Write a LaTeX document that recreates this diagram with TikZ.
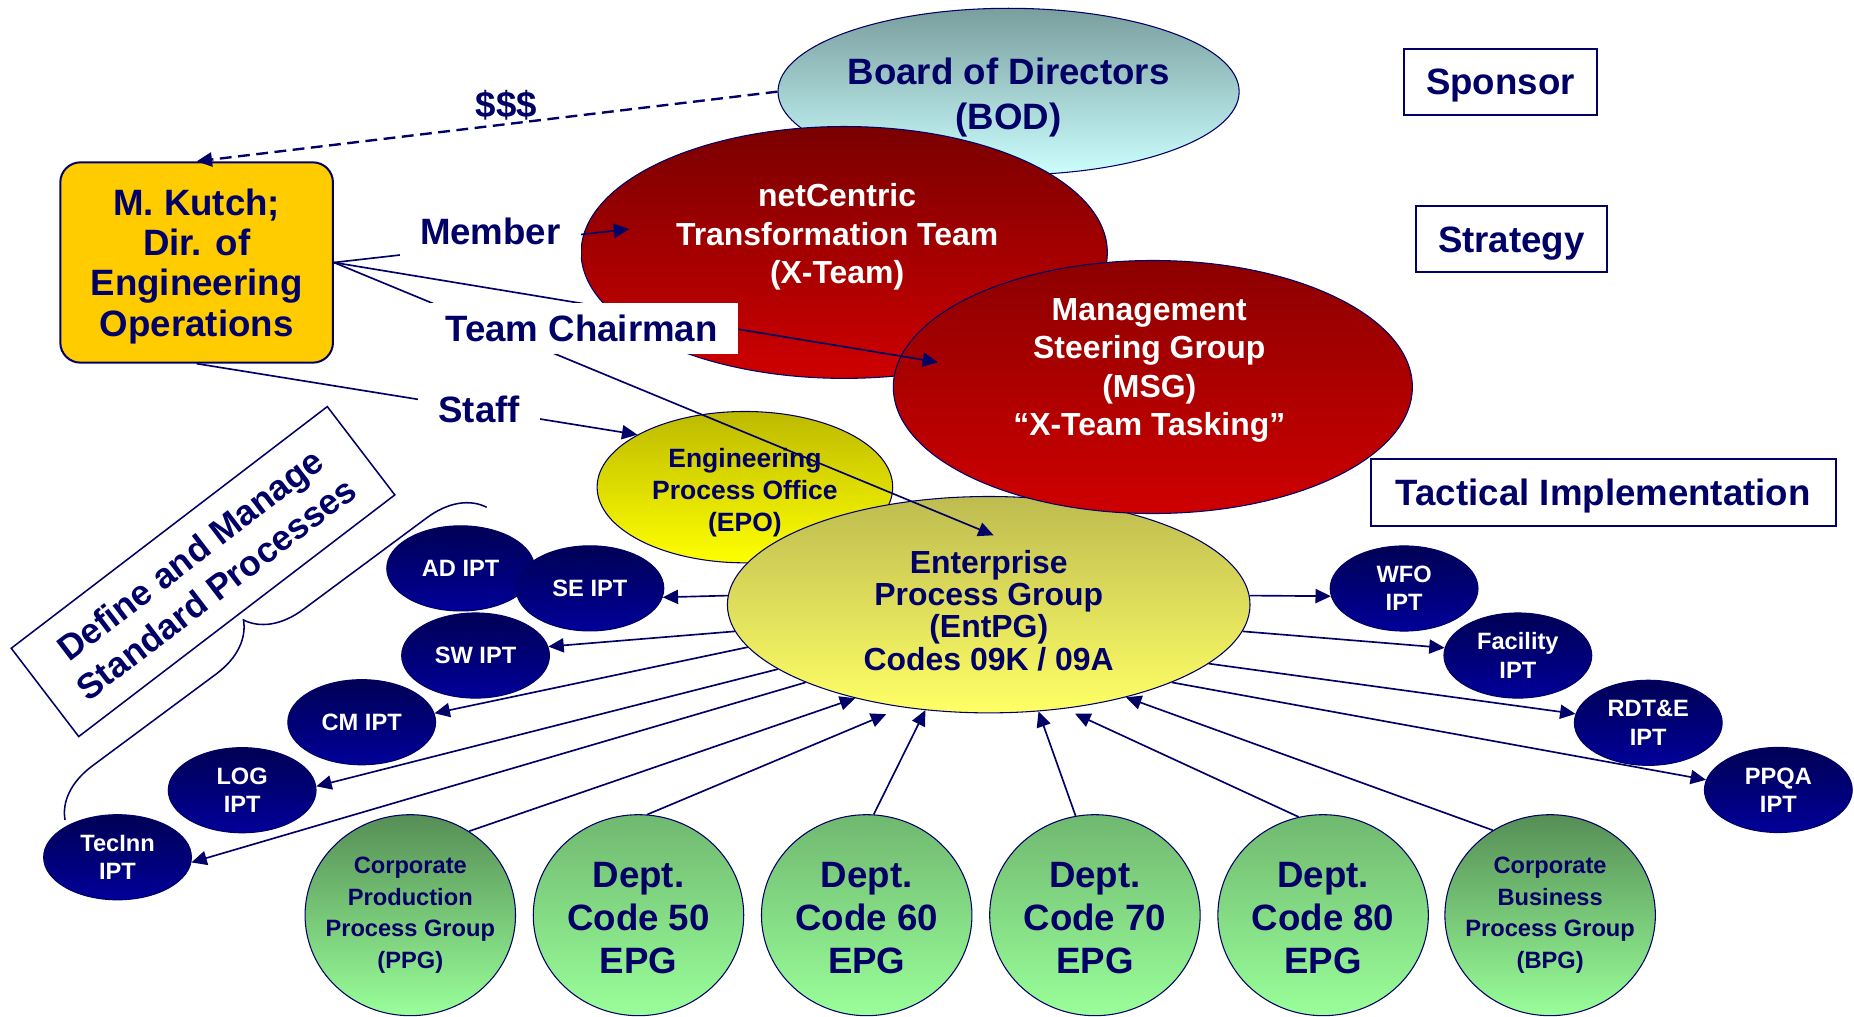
\documentclass[tikz,border=0pt]{standalone}
\usepackage{fontspec}
\setmainfont{Liberation Sans}
\usetikzlibrary{shapes.geometric, arrows.meta, decorations.pathreplacing}

\definecolor{navy}{RGB}{0, 0, 102}
\definecolor{gold}{RGB}{255, 204, 0}
\definecolor{bodtop}{RGB}{122, 158, 158}
\definecolor{bodbot}{RGB}{204, 255, 255}
\definecolor{redtop}{RGB}{122, 0, 0}
\definecolor{msgtop}{RGB}{140, 0, 0}
\definecolor{redbot}{RGB}{206, 0, 0}
\definecolor{epotop}{RGB}{189, 186, 0}
\definecolor{epobot}{RGB}{255, 255, 0}
\definecolor{enttop}{RGB}{190, 188, 80}
\definecolor{entbot}{RGB}{255, 255, 102}
\definecolor{ipttop}{RGB}{0, 0, 85}
\definecolor{iptbot}{RGB}{0, 0, 153}
\definecolor{depttop}{RGB}{112, 184, 112}
\definecolor{corptop}{RGB}{86, 142, 86}
\definecolor{greenbot}{RGB}{153, 255, 153}

\newcommand{\fBig}{\bfseries\fontsize{31}{34}\selectfont}
\newcommand{\fBod}{\bfseries\fontsize{31}{38}\selectfont}
\newcommand{\fRed}{\bfseries\fontsize{27}{32.5}\selectfont}
\newcommand{\fEnt}{\bfseries\fontsize{27}{27.4}\selectfont}
\newcommand{\fEpo}{\bfseries\fontsize{22.4}{26.8}\selectfont}
\newcommand{\fIpt}{\bfseries\fontsize{20}{24}\selectfont}
\newcommand{\fDept}{\bfseries\fontsize{31}{36.6}\selectfont}
\newcommand{\fCorp}{\bfseries\fontsize{20}{26.6}\selectfont}
\newcommand{\fDefine}{\bfseries\fontsize{30}{36}\selectfont}

\tikzset{
  ball/.style={ellipse, draw=navy, line width=0.9pt, inner sep=0pt, align=center},
  balltext/.style={text=navy, align=center, inner sep=0pt},
  bodball/.style={ball, top color=bodtop, bottom color=bodbot,
    minimum width=390pt, minimum height=141pt},
  redball/.style={ball, top color=redtop, bottom color=redbot},
  epoball/.style={ball, top color=epotop, bottom color=epobot,
    minimum width=250pt, minimum height=128pt},
  entball/.style={ball, top color=enttop, bottom color=entbot,
    minimum width=442pt, minimum height=183pt},
  iptball/.style={ball, top color=ipttop, bottom color=iptbot, text=white,
    font=\fIpt, minimum width=125pt, minimum height=72pt},
  greenball/.style={ball, bottom color=greenbot, text=navy,
    minimum width=178pt, minimum height=170pt},
  deptball/.style={greenball, top color=depttop},
  corpball/.style={greenball, top color=corptop, font=\fCorp, inner xsep=-10pt},
  redtext/.style={balltext, text=white, font=\fRed},
  tagbox/.style={draw=navy, line width=1.7pt, text=navy, font=\fBig,
    inner sep=0pt, minimum height=56pt, text height=22pt, text depth=0pt},
  tag/.style={fill=white, text=navy, font=\fBig, inner xsep=17pt, inner ysep=10pt},
  link/.style={draw=navy, line width=1.4pt, -{Triangle[length=13pt, width=12pt]}}
}

\begin{document}
\begin{tikzpicture}[x=1pt, y=-1pt]
  \fill[white] (0,0) rectangle (1568,860);
  \useasboundingbox (0,0) rectangle (1568,860);

  % ellipses, back to front
  \node[bodball] (bod) at (853,77.5) {};
  \node[balltext, font=\fBod] (bodtext) at ([yshift=-5.2pt]bod.center) {Board of Directors\\(BOD)};
  \node[redball, minimum width=445pt, minimum height=213pt] (xteam) at (714,213.5) {};
  \node[redtext] (xteamtext) at ([xshift=-6pt, yshift=13pt]xteam.center)
    {netCentric\\Transformation Team\\(X-Team)};
  \node[epoball] (epo) at (630,412) {};
  \node[balltext, font=\fEpo] (epotext) at ([yshift=-4.5pt]epo.center)
    {Engineering\\Process Office\\(EPO)};
  \node[entball] (entpg) at (836.2,511.4) {};
  \node[balltext, font=\fEnt] (entpgtext) at ([yshift=-4.9pt]entpg.center)
    {Enterprise\\Process Group\\(EntPG)\\Codes 09K / 09A};
  \node[redball, top color=msgtop, minimum width=439pt, minimum height=214pt] (msg) at (975,327.3) {};
  \node[redtext] (msgtext) at ([xshift=-3pt, yshift=14pt]msg.center)
    {Management\\Steering Group\\(MSG)\\``X-Team Tasking''};

  % boxes
  \node[draw=navy, line width=1.7pt, fill=gold, rounded corners=17pt, text=navy, font=\fBig,
    align=center, inner sep=0pt, minimum width=230.6pt, minimum height=169.4pt, text depth=-1.5pt]
    (kutch) at (166.3,222) {M. Kutch;\\Dir. of\\Engineering\\Operations};
  \node[tagbox, minimum width=163pt] (sponsor) at (1268.9,69.1) {Sponsor};
  \node[tagbox, minimum width=161pt] (strategy) at (1278.2,202.2) {Strategy};
  \node[tagbox, minimum width=393.6pt] (tactical) at (1356,416.5) {Tactical Implementation};
  \node[draw=navy, line width=1.3pt, rotate=37.4, text=navy, font=\fDefine, align=center,
    inner sep=0pt, minimum width=336.5pt, minimum height=94pt] (define) at (171.7,483.4)
    {Define and Manage\\Standard Processes};
  \draw[navy, line width=1.3pt, decorate, decoration={brace, amplitude=46pt}]
    (55,693.5) -- (411.6,429);

  % IPTs
  \foreach \nm/\px/\py/\txt in {ad/389.6/480.7/AD IPT, se/498.9/497.6/SE IPT,
      sw/402.2/554.4/SW IPT, cm/305.9/610.8/CM IPT, log/204.8/668.3/LOG\\IPT,
      tecinn/99.4/725/TecInn\\IPT, wfo/1187.5/497.7/WFO\\IPT,
      facility/1283.7/554.4/Facility\\IPT, rdte/1394/611.3/RDT\&E\\IPT,
      ppqa/1504/668.1/PPQA\\IPT}
    \node[iptball] (\nm) at (\px,\py) {\txt};

  % process groups
  \node[corpball] (ppg) at (347,774) {Corporate\\Production\\Process Group\\(PPG)};
  \foreach \c/\px in {50/540, 60/733, 70/926, 80/1119} {
    \node[deptball] (d\c) at (\px,774) {};
    \node[balltext, font=\fDept] (d\c text) at ([yshift=-2.3pt]d\c.center) {Dept.\\Code \c\\EPG};
  }
  \node[corpball] (bpg) at (1311,774) {Corporate\\Business\\Process Group\\(BPG)};

  % connectors
  \draw[link, line width=2pt, dash pattern=on 10pt off 5.5pt] (bod.west) --
    node[above, pos=0.467, inner sep=2pt, text=navy, font=\fBig] {\$\$\$} (kutch.north);
  \draw[link, shorten >=-76pt] (kutch.east) -- (entpg.127);
  \draw[link, shorten >=-32pt] (kutch.east) --
    node[tag, pos=0.437, yshift=-21.3pt] {Team Chairman} (msg.173);
  \draw[link, shorten >=-39pt] (kutch.east) --
    node[tag, pos=0.627, yshift=10.9pt] {Member} (xteam.176);
  \draw[link] (kutch.south) -- node[tag, pos=0.641] {Staff} (epo.154);

  \foreach \nm/\a/\b in {se/178/353, sw/186/7, cm/190/7, log/197/3, tecinn/203/356,
      wfo/2/186, facility/354/174, rdte/345/173, ppqa/337/172}
    \draw[link] (entpg.\a) -- (\nm.\b);
  \foreach \nm/\a/\b/\s in {ppg/55/215/0pt, d50/85/230/15pt, d60/86/239/0pt,
      d70/101/295/0pt, d80/104/306/10pt, bpg/124/326/0pt}
    \draw[link, shorten >=\s] (\nm.\a) -- (entpg.\b);
\end{tikzpicture}
\end{document}
